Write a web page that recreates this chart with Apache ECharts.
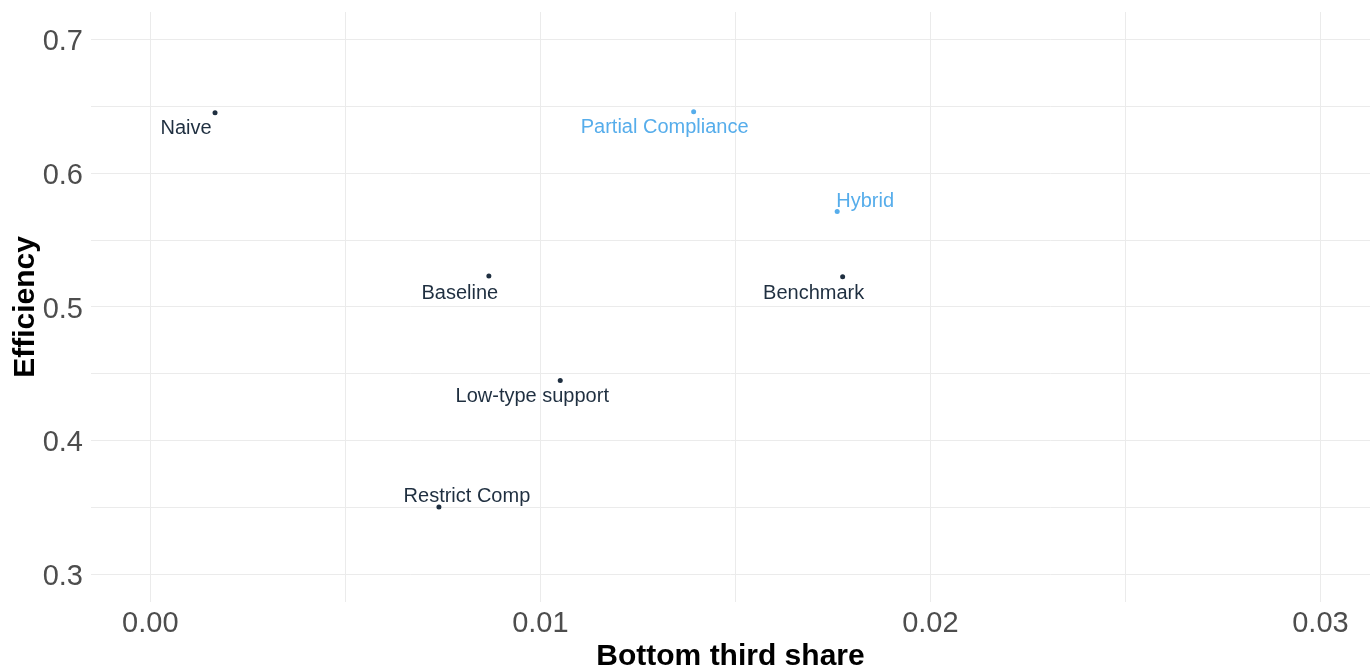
<!DOCTYPE html>
<html>
<head>
<meta charset="utf-8">
<script src="https://cdn.jsdelivr.net/npm/echarts@6/dist/echarts.min.js"></script>
<style>
  html, body { margin: 0; padding: 0; background: #fff; }
  #chart { width: 1370px; height: 665px; }
</style>
</head>
<body>
<div id="chart"></div>
<script>
// scenario data
var names = ['Naive', 'Partial Compliance', 'Hybrid', 'Baseline', 'Benchmark', 'Low-type support', 'Restrict Comp'];
var bottomShare = [0.00166, 0.01393, 0.01761, 0.00868, 0.01775, 0.01051, 0.0074];
var efficiency = [0.6451, 0.6458, 0.5711, 0.5230, 0.5224, 0.4447, 0.3502];
var highlighted = [false, true, true, false, false, false, false];

// tick labels and grid lines
var xTicks = [0, 0.01, 0.02, 0.03];
var xGrid = [0, 0.005, 0.01, 0.015, 0.02, 0.025, 0.03];
var yTicks = [0.3, 0.4, 0.5, 0.6, 0.7];
var yGrid = [0.3, 0.35, 0.4, 0.45, 0.5, 0.55, 0.6, 0.65, 0.7];

// where each label sits relative to its point (repel-style)
var labelOffsets = [[-29, 16], [-29, 16], [28, -10], [-29, 18], [-29, 17], [-28, 16], [28, -10]];

var darkCol = '#1F2F40';
var blueCol = '#56ADEB';
var fontFam = '"Liberation Sans", Arial, sans-serif';

var points = names.map(function (n, i) {
    var col = highlighted[i] ? blueCol : darkCol;
    return {
        name: n,
        value: [bottomShare[i], efficiency[i]],
        itemStyle: { color: col, opacity: 1 },
        label: { color: col, offset: labelOffsets[i] }
    };
});

var chart = echarts.init(document.getElementById('chart'), null, { renderer: 'canvas' });

var option = {
    backgroundColor: '#ffffff',
    animation: false,
    textStyle: { fontFamily: fontFam },
    grid: { left: 91, right: 0, top: 12, bottom: 63, containLabel: false, outerBoundsMode: 'none' },
    xAxis: {
        type: 'value',
        min: -0.00152,
        max: 0.03127,
        name: 'Bottom third share',
        nameLocation: 'middle',
        nameGap: 40,
        nameMoveOverlap: false,
        nameTextStyle: { fontSize: 30, fontWeight: 'bold', color: '#000', fontFamily: fontFam },
        axisLine: { show: false },
        axisTick: { show: false, customValues: xGrid },
        axisLabel: {
            customValues: xTicks,
            fontSize: 29,
            color: '#4D4D4D',
            margin: 7,
            fontFamily: fontFam,
            formatter: function (v) { return v.toFixed(2); }
        },
        splitLine: { show: true, lineStyle: { color: '#EBEBEB', width: 1 } }
    },
    yAxis: {
        type: 'value',
        min: 0.2791,
        max: 0.7204,
        name: 'Efficiency',
        nameLocation: 'middle',
        nameGap: 50,
        nameMoveOverlap: false,
        nameTextStyle: { fontSize: 30, fontWeight: 'bold', color: '#000', fontFamily: fontFam },
        axisLine: { show: false },
        axisTick: { show: false, customValues: yGrid },
        axisLabel: {
            customValues: yTicks,
            margin: 8,
            formatter: function (v) { return '{t|' + v.toFixed(1) + '}'; },
            rich: {
                t: { fontSize: 29, color: '#4D4D4D', fontFamily: fontFam, padding: [6, 0, 0, 0] }
            }
        },
        splitLine: { show: true, lineStyle: { color: '#EBEBEB', width: 1 } }
    },
    series: [{
        type: 'scatter',
        symbol: 'circle',
        symbolSize: 5,
        data: points,
        label: {
            show: true,
            position: 'inside',
            align: 'center',
            verticalAlign: 'middle',
            fontSize: 20,
            fontFamily: fontFam,
            formatter: function (p) { return p.name; }
        },
        emphasis: { disabled: true }
    }]
};

chart.setOption(option);
</script>
</body>
</html>
